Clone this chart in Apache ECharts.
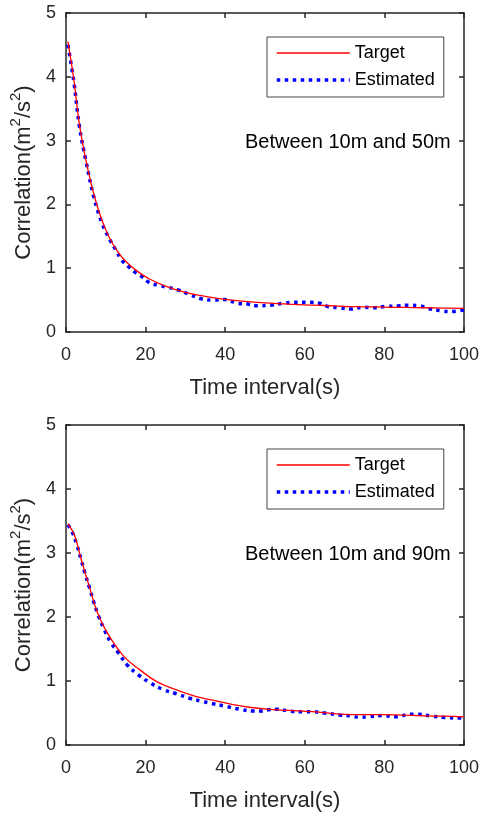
<!DOCTYPE html>
<html>
<head>
<meta charset="utf-8">
<script src="https://cdn.jsdelivr.net/npm/echarts@6/dist/echarts.min.js"></script>
<style>
html,body{margin:0;padding:0;background:#fff;}
#chart{width:482px;height:814px;}
</style>
</head>
<body>
<div id="chart"></div>
<script>
// ---- data ----
var xTicks = [0, 20, 40, 60, 80, 100];
var yTicks = [0, 1, 2, 3, 4, 5];
var seriesNames = ['Target', 'Estimated'];
var panelNotes = ['Between 10m and 50m', 'Between 10m and 90m'];

var topTargetTime = [0.5, 2, 3.4, 5, 7, 9, 11, 13, 15, 18, 21, 25, 30, 35, 40, 45, 50, 55, 60, 65, 70, 75, 80, 85, 90, 95, 100];
var topTarget     = [4.55, 3.95, 3.25, 2.70, 2.16, 1.76, 1.47, 1.26, 1.11, 0.95, 0.83, 0.72, 0.62, 0.56, 0.51, 0.48, 0.455, 0.44, 0.425, 0.415, 0.40, 0.395, 0.39, 0.385, 0.38, 0.375, 0.37];

var topEstTime = [0.5, 2, 3.4, 5, 7, 9, 11, 12.5, 14, 15.8, 17.5, 19.1, 20.8, 23.2, 25.7, 28.2, 30.7, 34, 37.3, 39.8, 43.1, 45.6, 48.1, 51.4, 54.7, 57.2, 61.3, 63.8, 65.8, 68.7, 71.6, 74.9, 77, 80.3, 83.6, 86.1, 89, 91, 94.4, 96.4, 100];
var topEstimated = [4.5, 3.92, 3.22, 2.69, 2.12, 1.72, 1.45, 1.29, 1.13, 1.02, 0.93, 0.87, 0.78, 0.73, 0.70, 0.66, 0.60, 0.52, 0.50, 0.51, 0.45, 0.44, 0.41, 0.42, 0.45, 0.465, 0.465, 0.45, 0.40, 0.38, 0.36, 0.39, 0.38, 0.40, 0.41, 0.42, 0.41, 0.37, 0.33, 0.32, 0.345];

var botTargetTime = [0.5, 2.2, 3.8, 5.9, 7.9, 10.4, 14.6, 18.7, 22.8, 27.8, 32.8, 37.7, 42, 46, 50.5, 56, 62, 70, 76, 83, 90, 95, 100];
var botTarget     = [3.46, 3.27, 2.91, 2.47, 2.07, 1.75, 1.38, 1.17, 0.99, 0.86, 0.755, 0.69, 0.63, 0.59, 0.56, 0.54, 0.52, 0.48, 0.475, 0.47, 0.455, 0.45, 0.44];

var botEstTime = [0.5, 1.5, 2.8, 3.8, 4.8, 5.9, 6.9, 8.1, 9.6, 11.2, 13.3, 15.4, 18.3, 21.2, 24.3, 27.8, 31.1, 34.4, 36.5, 39.8, 43.5, 47.2, 48.9, 50.7, 52.6, 56.3, 59.6, 61.7, 65, 68.7, 72, 73.7, 75.8, 79.5, 82.8, 86.5, 88.2, 91.9, 95.2, 98.9, 100];
var botEstimated = [3.44, 3.34, 3.12, 2.90, 2.68, 2.46, 2.25, 2.03, 1.81, 1.61, 1.43, 1.25, 1.09, 0.97, 0.87, 0.80, 0.73, 0.68, 0.65, 0.61, 0.56, 0.53, 0.53, 0.55, 0.56, 0.53, 0.52, 0.52, 0.50, 0.47, 0.45, 0.43, 0.44, 0.46, 0.44, 0.48, 0.48, 0.45, 0.43, 0.42, 0.42];

function pairs(xs, ys) { return xs.map(function (x, i) { return [x, ys[i]]; }); }

// ---- chart ----
var FONT = 'Liberation Sans, Arial, sans-serif';
var INK = '#262626';
var grids = [
  { left: 63, top: 13, width: 403, height: 319 },
  { left: 63, top: 425, width: 403, height: 320 }
];
var targetLine = { color: '#ff0000', width: 1.3 };
var estLine = { color: '#0000ff', width: 3.5, type: [3.5, 4.5], cap: 'butt' };

var xAxes = [], yAxes = [], series = [], legends = [], graphics = [];
grids.forEach(function (g, gi) {
  var tickCommon = { show: true, inside: true, length: 5, lineStyle: { color: INK, width: 1.5 } };
  xAxes.push({
    type: 'value', gridIndex: gi, min: xTicks[0], max: xTicks[xTicks.length - 1], interval: 20,
    position: 'bottom',
    axisLine: { show: true, onZero: false, lineStyle: { color: INK, width: 1.5 } },
    axisTick: tickCommon,
    splitLine: { show: false },
    axisLabel: { color: INK, fontFamily: FONT, fontSize: 18, margin: 14 },
    name: 'Time interval(s)', nameLocation: 'middle', nameGap: 45,
    nameTextStyle: { color: INK, fontFamily: FONT, fontSize: 22 }
  });
  xAxes.push({
    type: 'value', gridIndex: gi, min: xTicks[0], max: xTicks[xTicks.length - 1], interval: 20,
    position: 'top',
    axisLine: { show: true, onZero: false, lineStyle: { color: INK, width: 1.5 } },
    axisTick: tickCommon, splitLine: { show: false }, axisLabel: { show: false }
  });
  yAxes.push({
    type: 'value', gridIndex: gi, min: yTicks[0], max: yTicks[yTicks.length - 1], interval: 1,
    position: 'left',
    axisLine: { show: true, onZero: false, lineStyle: { color: INK, width: 1.5 } },
    axisTick: tickCommon,
    splitLine: { show: false },
    axisLabel: { color: INK, fontFamily: FONT, fontSize: 18, margin: 10 },
    name: '{a|Correlation(m}{s|2}{a|/s}{s|2}{a|)}', nameLocation: 'middle', nameGap: 29,
    nameTextStyle: {
      color: INK, fontFamily: FONT, fontSize: 22,
      rich: {
        a: { color: INK, fontFamily: FONT, fontSize: 22, lineHeight: 27, verticalAlign: 'bottom' },
        s: { color: INK, fontFamily: FONT, fontSize: 15, lineHeight: 27, verticalAlign: 'top' }
      }
    }
  });
  yAxes.push({
    type: 'value', gridIndex: gi, min: yTicks[0], max: yTicks[yTicks.length - 1], interval: 1,
    position: 'right',
    axisLine: { show: true, onZero: false, lineStyle: { color: INK, width: 1.5 } },
    axisTick: tickCommon, splitLine: { show: false }, axisLabel: { show: false }
  });

  var tT = gi === 0 ? topTargetTime : botTargetTime;
  var tV = gi === 0 ? topTarget : botTarget;
  var eT = gi === 0 ? topEstTime : botEstTime;
  var eV = gi === 0 ? topEstimated : botEstimated;

  series.push({
    name: seriesNames[0], type: 'line', xAxisIndex: gi * 2, yAxisIndex: gi * 2,
    data: pairs(tT, tV), smooth: 0.4, symbol: 'none', z: 3,
    lineStyle: targetLine, itemStyle: { color: '#ff0000' }
  });
  series.push({
    name: seriesNames[1], type: 'line', xAxisIndex: gi * 2, yAxisIndex: gi * 2,
    data: pairs(eT, eV), smooth: 0.4, symbol: 'none', z: 2,
    lineStyle: estLine, itemStyle: { color: '#0000ff' }
  });

  legends.push({
    data: [
      { name: seriesNames[0], lineStyle: targetLine },
      { name: seriesNames[1], lineStyle: estLine }
    ],
    orient: 'vertical', left: 267, top: g.top + 24,
    padding: [7, 9, 8, 8], itemGap: 9, itemWidth: 73, itemHeight: 18,
    borderColor: '#444', borderWidth: 1, backgroundColor: '#fff',
    itemStyle: { color: 'rgba(0,0,0,0)', borderWidth: 0, opacity: 0 },
    textStyle: { color: '#000', fontFamily: FONT, fontSize: 18 },
    selectedMode: false
  });

  graphics.push({
    type: 'text', left: 245, top: g.top + 119,
    style: { text: panelNotes[gi], fill: '#000', font: '20px ' + FONT }
  });
});

var chart = echarts.init(document.getElementById('chart'), null, { renderer: 'canvas' });
chart.setOption({
  animation: false,
  backgroundColor: '#fff',
  grid: grids,
  xAxis: xAxes,
  yAxis: yAxes,
  series: series,
  legend: legends,
  graphic: graphics
});
</script>
</body>
</html>
